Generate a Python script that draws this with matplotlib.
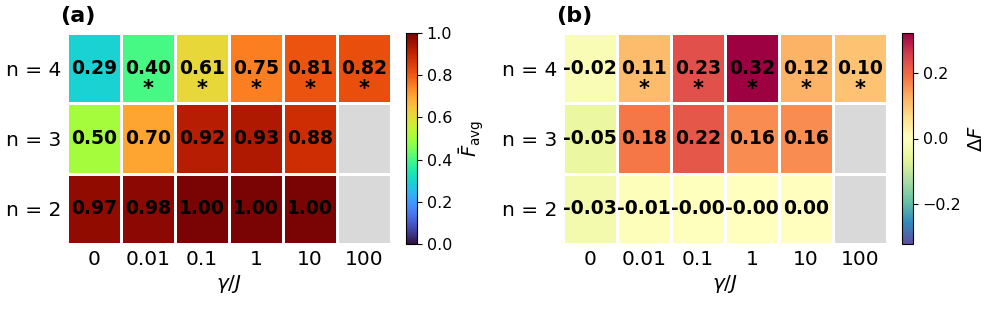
import numpy as np
import matplotlib
matplotlib.use('Agg')
import matplotlib.pyplot as plt
from matplotlib.colors import ListedColormap

# data
gammas = ["0", "0.01", "0.1", "1", "10", "100"]
sizes = ["n = 4", "n = 3", "n = 2"]
f_avg = np.array([
    [0.29, 0.40, 0.61, 0.75, 0.81, 0.82],
    [0.50, 0.70, 0.92, 0.93, 0.88, np.nan],
    [0.97, 0.98, 1.00, 1.00, 1.00, np.nan],
])
delta_f = np.array([
    [-0.02, 0.11, 0.23, 0.32, 0.12, 0.10],
    [-0.05, 0.18, 0.22, 0.16, 0.16, np.nan],
    [-0.03, -0.01, -0.003, -0.002, 0.002, np.nan],
])
stars = np.array([
    [False, True, True, True, True, True],
    [False, False, False, False, False, False],
    [False, False, False, False, False, False],
])


def draw_panel(ax, cax, data, cmap, vmin, vmax, ticks, clabel, tag):
    nrow, ncol = data.shape
    x = np.arange(ncol + 1)
    y = np.arange(nrow + 1)
    masked = np.ma.masked_invalid(data)
    mesh = ax.pcolormesh(x, y, masked, cmap=cmap, vmin=vmin, vmax=vmax,
                         edgecolors='white', linewidth=0.9)
    nanmask = np.ma.masked_where(~np.isnan(data), np.ones_like(data))
    ax.pcolormesh(x, y, nanmask, cmap=ListedColormap(['#d9d9d9']),
                  edgecolors='white', linewidth=0.9)
    ax.set_xlim(0, ncol)
    ax.set_ylim(nrow, 0)
    for s in ax.spines.values():
        s.set_visible(False)
    ax.set_xticks(np.arange(ncol) + 0.5)
    ax.set_xticklabels(gammas, fontsize=14.5)
    ax.set_yticks(np.arange(nrow) + 0.5)
    ax.set_yticklabels(sizes, fontsize=14.5)
    ax.tick_params(length=0)
    ax.tick_params(axis='x', pad=4)
    ax.tick_params(axis='y', pad=4)
    ax.set_xlabel(r'$\gamma/J$', fontsize=14.5, labelpad=3)
    for i in range(nrow):
        for j in range(ncol):
            if np.isnan(data[i, j]):
                continue
            ax.text(j + 0.5, i + 0.5, "%.2f" % data[i, j], ha='center', va='center',
                    fontsize=13.5, fontweight='bold', color='black')
            if stars[i, j]:
                ax.text(j + 0.5, i + 0.8, "*", ha='center', va='center',
                        fontsize=15, fontweight='bold', color='black')
    cb = plt.colorbar(mesh, cax=cax)
    cb.set_ticks(ticks)
    cb.ax.tick_params(labelsize=11.5)
    cb.set_label(clabel, fontsize=14)
    cb.outline.set_linewidth(0.8)
    ax.text(-0.022, 1.035, tag, transform=ax.transAxes, fontsize=16,
            fontweight='bold', ha='left', va='bottom')


fig = plt.figure(figsize=(9.88, 3.25), dpi=100)
ax1 = fig.add_axes([67 / 988, 81 / 325, 324 / 988, 211 / 325])
cax1 = fig.add_axes([406 / 988, 81 / 325, 11 / 988, 211 / 325])
ax2 = fig.add_axes([563 / 988, 81 / 325, 324 / 988, 211 / 325])
cax2 = fig.add_axes([902 / 988, 81 / 325, 11 / 988, 211 / 325])

draw_panel(ax1, cax1, f_avg, 'turbo', 0.0, 1.0, [0, 0.2, 0.4, 0.6, 0.8, 1.0],
           r'$\bar{F}_{\rm avg}$', '(a)')
vm = np.nanmax(np.abs(delta_f))
draw_panel(ax2, cax2, delta_f, 'Spectral_r', -vm, vm, [-0.2, 0.0, 0.2],
           r'$\Delta F$', '(b)')

fig.savefig('out.png', dpi=100)
